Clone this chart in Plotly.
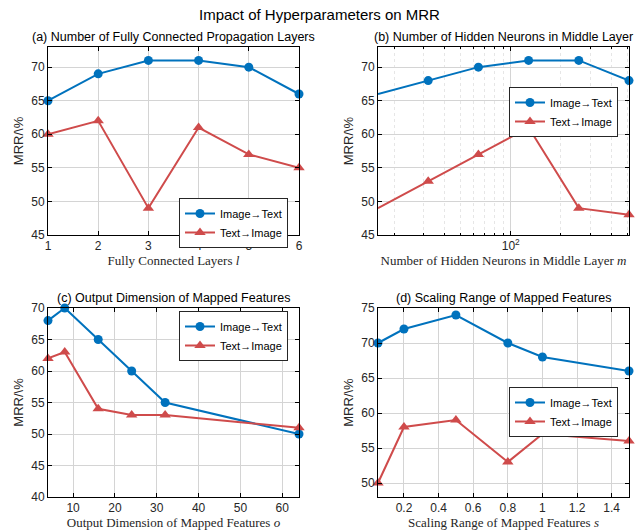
import plotly.graph_objects as go
from plotly.subplots import make_subplots

# ---- data ----
layers = [1, 2, 3, 4, 5, 6]
layers_i2t = [65, 69, 71, 71, 70, 66]
layers_t2i = [60, 62, 49, 61, 57, 55]

neurons = [16, 32, 64, 128, 256, 512]
neurons_i2t = [66, 68, 70, 71, 71, 68]
neurons_t2i = [49, 53, 57, 61, 49, 48]

dims = [4, 8, 16, 24, 32, 64]
dims_i2t = [68, 70, 65, 60, 55, 50]
dims_t2i = [62, 63, 54, 53, 53, 51]

scales = [0.05, 0.2, 0.5, 0.8, 1.0, 1.5]
scales_i2t = [70, 72, 74, 70, 68, 66]
scales_t2i = [50, 58, 59, 53, 57, 56]

subtitles = ["(a) Number of Fully Connected Propagation Layers",
             "(b) Number of Hidden Neurons in Middle Layer",
             "(c) Output Dimension of Mapped Features",
             "(d) Scaling Range of Mapped Features"]
xtitles = ["Fully Connected Layers <i>l</i>",
           "Number of Hidden Neurons in Middle Layer <i>m</i>",
           "Output Dimension of Mapped Features <i>o</i>",
           "Scaling Range of Mapped Features <i>s</i>"]

BLUE = "#0072BD"
RED = "#CF4B4B"
W, H = 638, 531

fig = make_subplots(rows=2, cols=2)

panels = [
    (1, 1, layers, layers_i2t, layers_t2i, "legend"),
    (1, 2, neurons, neurons_i2t, neurons_t2i, "legend2"),
    (2, 1, dims, dims_i2t, dims_t2i, "legend3"),
    (2, 2, scales, scales_i2t, scales_t2i, "legend4"),
]
for r, c, x, a, b, lg in panels:
    fig.add_trace(go.Scatter(x=x, y=a, mode="lines+markers", name="Image→Text",
                             line=dict(color=BLUE, width=2),
                             marker=dict(symbol="circle", size=9, color=BLUE),
                             legend=lg, cliponaxis=False), row=r, col=c)
    fig.add_trace(go.Scatter(x=x, y=b, mode="lines+markers", name="Text→Image",
                             line=dict(color=RED, width=2),
                             marker=dict(symbol="triangle-up", size=10, color=RED),
                             legend=lg, cliponaxis=False), row=r, col=c)

def px_x(p):
    return p / W

def px_y(p):
    return 1 - p / H

xdom = [[px_x(48), px_x(299)], [px_x(378), px_x(629)]]
ydom = [[px_y(235), px_y(47)], [px_y(497), px_y(308)]]

GRID = "#d4d4d4"
tickfont = dict(family="Liberation Sans, Arial, sans-serif", size=12, color="#262626")
axcommon = dict(showline=True, linecolor="black", linewidth=1, mirror="ticks",
                ticks="inside", ticklen=4, tickcolor="black", showgrid=True,
                gridcolor=GRID, gridwidth=1, zeroline=False, tickfont=tickfont,
                automargin=False)
serif = dict(family="Liberation Serif, Times New Roman, serif", size=13, color="#262626")

xcfg = [
    dict(range=[1, 6], tickvals=[1, 2, 3, 4, 5, 6]),
    dict(type="log", range=[1.20412, 2.70927], tickvals=[100], ticktext=["10<sup>2</sup>"],
         minor=dict(tickvals=[20, 30, 40, 50, 60, 70, 80, 90, 200, 300, 400, 500],
                    showgrid=True, gridcolor="#e6e6e6", griddash="dot", ticks="inside",
                    ticklen=2, tickcolor="black")),
    dict(range=[4, 64], tickvals=[10, 20, 30, 40, 50, 60]),
    dict(range=[0.05, 1.5], tickvals=[0.2, 0.4, 0.6, 0.8, 1.0, 1.2, 1.4],
         ticktext=["0.2", "0.4", "0.6", "0.8", "1", "1.2", "1.4"]),
]
ycfg = [
    dict(range=[45, 73], tickvals=[45, 50, 55, 60, 65, 70]),
    dict(range=[45, 73], tickvals=[45, 50, 55, 60, 65, 70]),
    dict(range=[40, 70], tickvals=[40, 45, 50, 55, 60, 65, 70]),
    dict(range=[48, 75], tickvals=[50, 55, 60, 65, 70, 75]),
]
pos = [(0, 0), (1, 0), (0, 1), (1, 1)]
for i in range(4):
    cx, ry = pos[i]
    name = "" if i == 0 else str(i + 1)
    xa = dict(axcommon); xa.update(xcfg[i]); xa["domain"] = xdom[cx]
    xa["title"] = dict(text=xtitles[i], font=serif, standoff=2)
    ya = dict(axcommon); ya.update(ycfg[i]); ya["domain"] = ydom[ry]
    ya["title"] = dict(text="MRR/\\%", font=dict(family="Liberation Sans, Arial, sans-serif",
                                                  size=13, color="#262626"), standoff=4)
    fig.layout["xaxis" + name].update(xa)
    fig.layout["yaxis" + name].update(ya)
    fig.add_annotation(text=subtitles[i], x=(xdom[cx][0] + xdom[cx][1]) / 2,
                       y=ydom[ry][1], xref="paper", yref="paper", yanchor="bottom",
                       xanchor="center", yshift=1, showarrow=False,
                       font=dict(family="Liberation Sans, Arial, sans-serif", size=12.5,
                                 color="black"))

legstyle = dict(bgcolor="white", bordercolor="#262626", borderwidth=1,
                font=dict(family="Liberation Sans, Arial, sans-serif", size=11, color="black"),
                xanchor="right", yanchor="top", tracegroupgap=0, itemwidth=30)
fig.update_layout(
    legend=dict(legstyle, x=px_x(288), y=px_y(198)),
    legend2=dict(legstyle, x=px_x(618), y=px_y(87)),
    legend3=dict(legstyle, x=px_x(288), y=px_y(311)),
    legend4=dict(legstyle, x=px_x(618), y=px_y(387)),
)

fig.add_annotation(text="Impact of Hyperparameters on MRR", x=0.5, y=px_y(14),
                   xref="paper", yref="paper", showarrow=False, yanchor="middle",
                   xanchor="center",
                   font=dict(family="Liberation Sans, Arial, sans-serif", size=15, color="black"))

fig.update_layout(width=W, height=H, margin=dict(l=0, r=0, t=0, b=0),
                  paper_bgcolor="white", plot_bgcolor="white", showlegend=True)

fig.write_html("out.html")
